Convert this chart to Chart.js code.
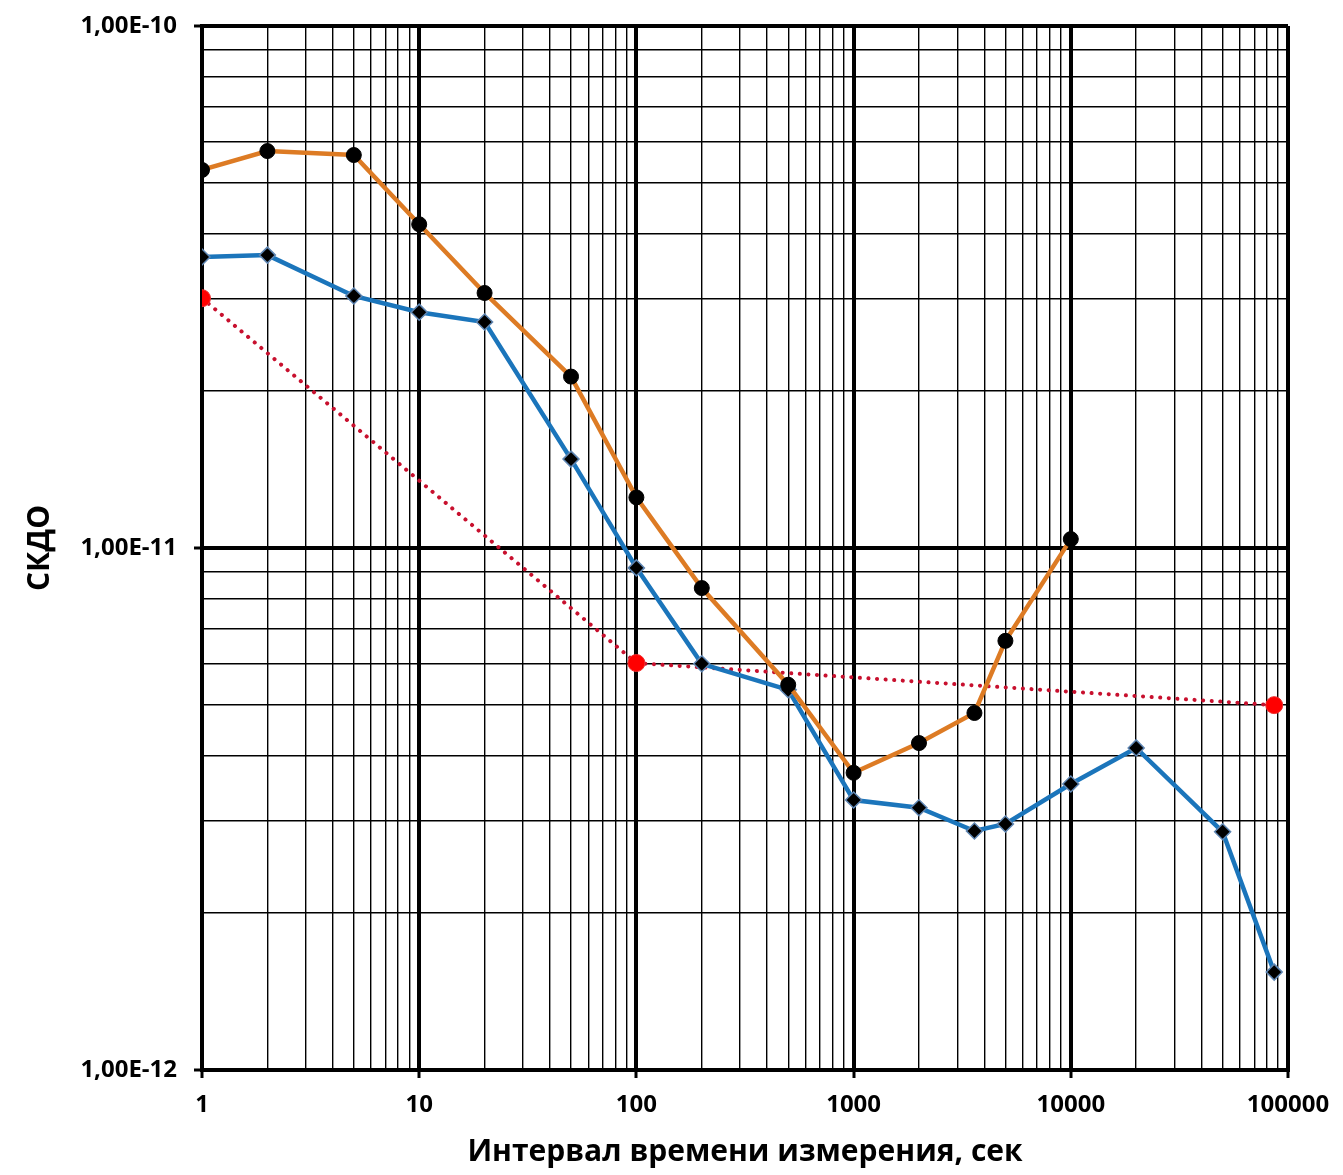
<!DOCTYPE html>
<html>
<head>
<meta charset="utf-8">
<script src="https://cdn.jsdelivr.net/npm/chart.js@4"></script>
<style>
  html, body { margin: 0; padding: 0; background: #fff; }
  #wrap { width: 1343px; height: 1175px; }
</style>
</head>
<body>
<div id="wrap"><canvas id="chart" width="1343" height="1175"></canvas></div>
<script>
// Averaging intervals, seconds
var orangeX = [1, 2, 5, 10, 20, 50, 100, 200, 500, 1000, 2000, 3600, 5000, 10000];
var orangeY = [5.30e-11, 5.76e-11, 5.66e-11, 4.17e-11, 3.08e-11, 2.13e-11, 1.25e-11,
               8.38e-12, 5.47e-12, 3.71e-12, 4.23e-12, 4.83e-12, 6.64e-12, 1.04e-11];

var blueX = [1, 2, 5, 10, 20, 50, 100, 200, 500, 1000, 2000, 3600, 5000, 10000, 20000, 50000, 86400];
var blueY = [3.61e-11, 3.64e-11, 3.04e-11, 2.83e-11, 2.71e-11, 1.48e-11, 9.16e-12,
             6.00e-12, 5.35e-12, 3.29e-12, 3.18e-12, 2.87e-12, 2.96e-12, 3.53e-12,
             4.14e-12, 2.86e-12, 1.54e-12];

var redX = [1, 100, 86400];
var redY = [3.01e-11, 6.02e-12, 5.00e-12];

// axis decades and their labels
var xDecades = [1, 10, 100, 1000, 10000, 100000];
var xTickLabels = ['1', '10', '100', '1000', '10000', '100000'];
var yDecades = [1e-12, 1e-11, 1e-10];
var yTickLabels = ['1,00E-12', '1,00E-11', '1,00E-10'];
var minorSteps = [1, 2, 3, 4, 5, 6, 7, 8, 9];

function pts(xs, ys) {
  return xs.map(function (x, i) { return { x: x, y: ys[i] }; });
}

function gridValues(decades) {
  var out = [];
  for (var d = 0; d < decades.length - 1; d++) {
    minorSteps.forEach(function (m) { out.push(m * decades[d]); });
  }
  out.push(decades[decades.length - 1]);
  return out;
}

function isDecade(v) {
  var l = Math.log10(v);
  return Math.abs(l - Math.round(l)) < 1e-6;
}

function decadeLabel(decades, labels, v) {
  for (var i = 0; i < decades.length; i++) {
    if (Math.abs(Math.log10(v) - Math.log10(decades[i])) < 1e-6) return labels[i];
  }
  return '';
}

var font = 'Open Sans';

var gridOpts = {
  color: '#000',
  lineWidth: function (c) { return c.tick && isDecade(c.tick.value) ? 4 : 1.4; },
  tickColor: function (c) { return c.tick && isDecade(c.tick.value) ? '#000' : 'rgba(0,0,0,0)'; },
  tickWidth: 3,
  tickLength: 8
};

new Chart(document.getElementById('chart'), {
  type: 'line',
  data: {
    datasets: [{
      data: pts(orangeX, orangeY),
      borderColor: '#DD7B24',
      borderWidth: 4.5,
      pointRadius: 7.5,
      pointStyle: 'circle',
      pointBackgroundColor: '#000',
      pointBorderColor: '#000',
      pointBorderWidth: 1
    }, {
      data: pts(blueX, blueY),
      borderColor: '#1B75BB',
      borderWidth: 4.5,
      pointRadius: 8,
      pointStyle: 'rectRot',
      pointBackgroundColor: '#000',
      pointBorderColor: '#5F86B3',
      pointBorderWidth: 1.5
    }, {
      data: pts(redX, redY),
      borderColor: '#C8102E',
      borderWidth: 4,
      borderDash: [0.1, 8.5],
      borderCapStyle: 'round',
      pointRadius: 8.5,
      pointStyle: 'circle',
      pointBackgroundColor: '#FF0000',
      pointBorderColor: '#F03030',
      pointBorderWidth: 1
    }]
  },
  options: {
    responsive: false,
    animation: false,
    layout: { padding: { top: 26, right: 55, left: 0, bottom: 0 } },
    plugins: { legend: { display: false }, tooltip: { enabled: false } },
    scales: {
      x: {
        type: 'logarithmic',
        min: 1,
        max: 100000,
        afterBuildTicks: function (s) { s.ticks = gridValues(xDecades).map(function (v) { return { value: v }; }); },
        afterFit: function (s) { s.height = 105; s.paddingLeft = 0; s.paddingRight = 0; },
        grid: gridOpts,
        border: { display: true, color: '#000', width: 4 },
        ticks: {
          autoSkip: false,
          maxRotation: 0,
          padding: 13,
          color: '#000',
          font: { family: font, size: 24, weight: 'bold' },
          callback: function (v) { return decadeLabel(xDecades, xTickLabels, v); }
        },
        title: {
          display: true,
          text: 'Интервал времени измерения, сек',
          color: '#000',
          font: { family: font, size: 30, weight: 'bold' },
          padding: { top: 0, bottom: 5 }
        }
      },
      y: {
        type: 'logarithmic',
        min: 1e-12,
        max: 1e-10,
        afterBuildTicks: function (s) { s.ticks = gridValues(yDecades).map(function (v) { return { value: v }; }); },
        afterFit: function (s) { s.width = 202; s.paddingTop = 0; s.paddingBottom = 0; },
        grid: gridOpts,
        border: { display: true, color: '#000', width: 4 },
        ticks: {
          autoSkip: false,
          padding: 17,
          color: '#000',
          font: { family: font, size: 24, weight: 'bold' },
          callback: function (v) { return decadeLabel(yDecades, yTickLabels, v); }
        },
        title: {
          display: true,
          text: 'СКДО',
          color: '#000',
          font: { family: font, size: 30, weight: 'bold' },
          padding: { top: 22, bottom: 0 }
        }
      }
    }
  }
});
</script>
</body>
</html>
